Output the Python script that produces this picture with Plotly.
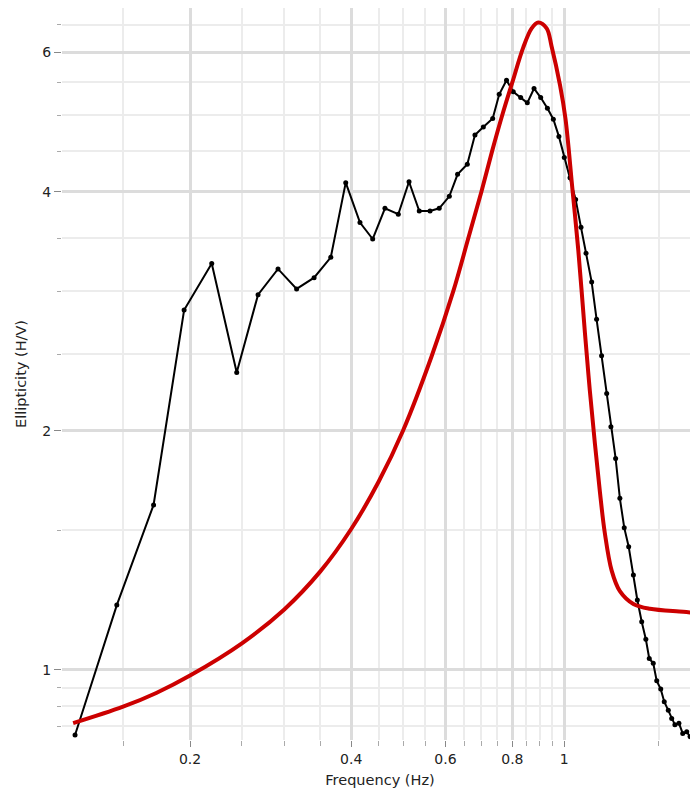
import plotly.graph_objects as go

# Measured H/V curve (black)
freq_obs = [0.122, 0.146, 0.171, 0.195, 0.2196, 0.2445, 0.268, 0.292, 0.3163, 0.341,
            0.3664, 0.3907, 0.4154, 0.4387, 0.4625, 0.4898, 0.5129, 0.536, 0.5614, 0.584,
            0.610, 0.632, 0.659, 0.681, 0.706, 0.735, 0.756, 0.780, 0.803, 0.829,
            0.853, 0.878, 0.9035, 0.930, 0.954, 0.977, 1.0, 1.025, 1.050, 1.0745,
            1.098, 1.125, 1.149, 1.174, 1.200, 1.222, 1.247, 1.27, 1.294, 1.319,
            1.346, 1.369, 1.395, 1.42, 1.441, 1.466, 1.488, 1.514, 1.537, 1.564,
            1.587, 1.609, 1.637, 1.664, 1.693, 1.717, 1.741]
hv_obs = [0.828, 1.207, 1.614, 2.84, 3.25, 2.37, 2.97, 3.20, 3.02, 3.12,
          3.31, 4.11, 3.66, 3.49, 3.815, 3.75, 4.12, 3.785, 3.785, 3.815,
          3.95, 4.21, 4.335, 4.72, 4.83, 4.95, 5.31, 5.53, 5.35, 5.26,
          5.18, 5.40, 5.26, 5.10, 4.94, 4.70, 4.42, 4.17, 3.915, 3.61,
          3.35, 3.08, 2.765, 2.487, 2.23, 2.025, 1.847, 1.645, 1.511, 1.43,
          1.317, 1.225, 1.15, 1.093, 1.034, 1.0196, 0.969, 0.946, 0.912, 0.890,
          0.869, 0.853, 0.857, 0.832, 0.836, 0.824, 0.818]

# Theoretical ellipticity curve (red)
freq_th = [0.121, 0.15, 0.173, 0.2, 0.25, 0.3, 0.35, 0.4, 0.45, 0.5,
           0.5655, 0.6205, 0.662, 0.70, 0.733, 0.766, 0.80, 0.838, 0.869,
           0.894, 0.927, 0.947, 0.982, 1.005, 1.035, 1.062, 1.093, 1.116, 1.141,
           1.166, 1.19, 1.226, 1.27, 1.346, 1.445, 1.668, 1.778]
hv_th = [0.857, 0.899, 0.9355, 0.984, 1.0805, 1.192, 1.330, 1.505, 1.726, 2.003,
         2.486, 3.0, 3.5, 4.0, 4.5, 5.0, 5.5, 6.08, 6.43,
         6.54, 6.43, 6.10, 5.45, 4.95, 4.05, 3.38, 2.655, 2.25, 1.925,
         1.672, 1.49, 1.334, 1.257, 1.211, 1.194, 1.184, 1.179]

x_major = [0.2, 0.4, 0.6, 0.8, 1]
x_major_text = ["0.2", "0.4", "0.6", "0.8", "1"]
x_minor = [0.15, 0.25, 0.3, 0.35, 0.45, 0.5, 0.55, 0.65, 0.7, 0.75, 0.85, 0.9, 0.95, 1.5]
y_major = [1, 2, 4, 6]
y_major_text = ["1", "2", "4", "6"]
y_minor = [0.85, 0.9, 0.95, 1.5, 2.5, 3, 3.5, 4.5, 5, 5.5, 6.5]

fig = go.Figure()
fig.add_trace(go.Scatter(x=freq_obs, y=hv_obs, mode="lines+markers",
                         line=dict(color="black", width=2),
                         marker=dict(color="black", size=5),
                         showlegend=False))
fig.add_trace(go.Scatter(x=freq_th, y=hv_th, mode="lines",
                         line=dict(color="#cc0000", width=4, shape="spline", smoothing=1.0),
                         showlegend=False))

font = dict(family="DejaVu Sans", size=14, color="#222222")
title_font = dict(family="DejaVu Sans", size=14.5, color="#222222")
fig.update_layout(
    width=690, height=789,
    margin=dict(l=54, r=0, t=0, b=57),
    plot_bgcolor="white", paper_bgcolor="white",
    font=font,
    xaxis=dict(type="log", range=[-0.938, 0.2497],
               tickmode="array", tickvals=x_major, ticktext=x_major_text,
               showgrid=True, gridcolor="#dcdcdc", gridwidth=3,
               ticks="outside", ticklen=6, tickcolor="#888888",
               zeroline=False, showline=False,
               minor=dict(tickmode="array", tickvals=x_minor, showgrid=True,
                          gridcolor="#ececec", gridwidth=2,
                          ticks="outside", ticklen=5, tickcolor="#aaaaaa"),
               title=dict(text="Frequency (Hz)", font=title_font, standoff=9)),
    yaxis=dict(type="log", range=[-0.0882, 0.8338],
               tickmode="array", tickvals=y_major, ticktext=y_major_text,
               showgrid=True, gridcolor="#dcdcdc", gridwidth=3,
               ticks="outside", ticklen=7, tickcolor="#888888",
               zeroline=False, showline=False,
               minor=dict(tickmode="array", tickvals=y_minor, showgrid=True,
                          gridcolor="#ececec", gridwidth=2,
                          ticks="outside", ticklen=4, tickcolor="#aaaaaa"),
               title=dict(text="Ellipticity (H/V)", font=title_font, standoff=12)),
)

fig.write_html("out.html")
